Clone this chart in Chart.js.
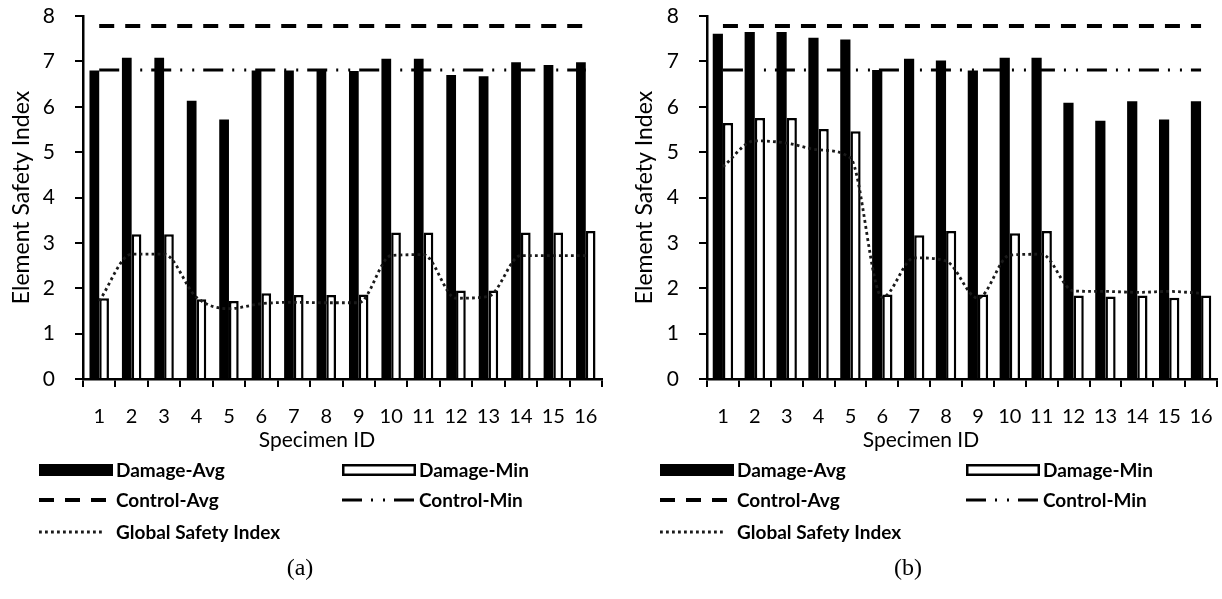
<!DOCTYPE html>
<html><head><meta charset="utf-8">
<script src="https://cdn.jsdelivr.net/npm/chart.js@4.4.1/dist/chart.umd.min.js"></script>
<style>
html,body{margin:0;padding:0;background:#fff;width:1222px;height:599px;overflow:hidden}
.wrap{position:absolute;top:0}
canvas{display:block}
</style></head><body>
<div class="wrap" style="left:0"><canvas id="ca" width="610" height="599"></canvas></div>
<div class="wrap" style="left:610px"><canvas id="cb" width="612" height="599"></canvas></div>
<script>
// ---- data ----
const specimenIds = ['1','2','3','4','5','6','7','8','9','10','11','12','13','14','15','16'];
const yTickValues = [0,1,2,3,4,5,6,7,8];
const seriesNames = ['Damage-Avg','Damage-Min','Control-Avg','Control-Min','Global Safety Index'];

// (a)
const damageAvgA = [6.80, 7.08, 7.08, 6.13, 5.72, 6.80, 6.80, 6.79, 6.79, 7.06, 7.06, 6.70, 6.67, 6.98, 6.92, 6.98];
const damageMinA = [1.78, 3.19, 3.19, 1.76, 1.72, 1.89, 1.85, 1.85, 1.86, 3.23, 3.23, 1.95, 1.95, 3.23, 3.23, 3.26];
const controlAvgA = [7.78, 7.78, 7.78, 7.78, 7.78, 7.78, 7.78, 7.78, 7.78, 7.78, 7.78, 7.78, 7.78, 7.78, 7.78, 7.78];
const controlMinA = [6.81, 6.81, 6.81, 6.81, 6.81, 6.81, 6.81, 6.81, 6.81, 6.81, 6.81, 6.81, 6.81, 6.81, 6.81, 6.81];
const globalA = [1.72, 2.75, 2.75, 1.80, 1.55, 1.66, 1.69, 1.68, 1.68, 2.72, 2.74, 1.78, 1.82, 2.72, 2.72, 2.72];

// (b)
const damageAvgB = [7.61, 7.65, 7.65, 7.52, 7.48, 6.81, 7.06, 7.02, 6.80, 7.08, 7.08, 6.09, 5.69, 6.12, 5.72, 6.12];
const damageMinB = [5.64, 5.75, 5.75, 5.51, 5.46, 1.86, 3.17, 3.26, 1.86, 3.21, 3.26, 1.84, 1.82, 1.84, 1.79, 1.84];
const controlAvgB = [7.78, 7.78, 7.78, 7.78, 7.78, 7.78, 7.78, 7.78, 7.78, 7.78, 7.78, 7.78, 7.78, 7.78, 7.78, 7.78];
const controlMinB = [6.81, 6.81, 6.81, 6.81, 6.81, 6.81, 6.81, 6.81, 6.81, 6.81, 6.81, 6.81, 6.81, 6.81, 6.81, 6.81];
const globalB = [4.68, 5.25, 5.20, 5.05, 4.87, 1.80, 2.67, 2.60, 1.78, 2.73, 2.75, 1.94, 1.93, 1.91, 1.93, 1.89];

const xTitle = 'Specimen ID';
const yTitle = 'Element Safety Index';

// ---- styling / drawing ----
const TICK_FONT = {family: 'Lato', size: 20};
const LEGEND_FONT = 'bold 19px Lato';

const bottomPlugin = {
  id: 'bottomText',
  afterDraw(chart, args, o) {
    const ctx = chart.ctx;
    ctx.save();
    ctx.fillStyle = '#000';
    ctx.textBaseline = 'middle';
    // x axis title
    ctx.font = '21px Lato';
    ctx.textAlign = 'center';
    ctx.fillText(o.xTitle, o.xTitleX, o.xTitleY);
    // legend (2 columns)
    const sw = 74, sh = 12;
    chart.data.datasets.forEach((ds, i) => {
      const col = i % 2, row = Math.floor(i / 2);
      const x = o.legendCols[col], y = o.legendRows[row];
      ctx.save();
      if (ds.type === 'bar') {
        ctx.fillStyle = ds.backgroundColor;
        ctx.fillRect(x, y - sh/2, sw, sh);
        if (ds.borderWidth) {
          ctx.lineWidth = 2.5;
          ctx.strokeStyle = ds.borderColor;
          ctx.strokeRect(x + 1.25, y - sh/2 + 1.25, sw - 2.5, sh - 2.5);
        }
      } else {
        ctx.strokeStyle = ds.borderColor;
        ctx.lineWidth = ds.borderWidth;
        ctx.lineCap = 'butt';
        ctx.setLineDash(ds.borderDash || []);
        ctx.beginPath();
        ctx.moveTo(x, y);
        ctx.lineTo(x + (ds.legendLen || sw), y);
        ctx.stroke();
      }
      ctx.restore();
      ctx.font = LEGEND_FONT;
      ctx.textAlign = 'left';
      ctx.fillStyle = '#000';
      ctx.fillText(ds.label, x + sw + 3, y + 1);
    });
    // caption
    ctx.font = '24px "Liberation Serif"';
    ctx.textAlign = 'center';
    ctx.fillText(o.caption, o.captionX, o.captionY);
    ctx.restore();
  }
};

function makeChart(id, avg, mn, cAvg, cMin, glob, cfg) {
  const datasets = [
    {type:'bar', label: seriesNames[0], data: avg, backgroundColor:'#000', borderWidth:0,
     categoryPercentage: cfg.catPct, barPercentage: 1, order: 3},
    {type:'bar', label: seriesNames[1], data: mn, backgroundColor:'#fff', borderColor:'#000', borderWidth:2.5,
     categoryPercentage: cfg.catPct, barPercentage: 1, order: 3},
    {type:'line', label: seriesNames[2], data: cAvg, borderColor:'#000', borderWidth:4,
     borderDash:[15,11], pointRadius:0, fill:false, order: 1},
    {type:'line', label: seriesNames[3], data: cMin, borderColor:'#000', borderWidth:3,
     borderDash:[20,9,2,10,2,9], pointRadius:0, fill:false, order: 1},
    {type:'line', label: seriesNames[4], data: glob, borderColor:'#1a1a1a', borderWidth:2.8,
     borderDash:[2.8,3.2], legendLen: 66, pointRadius:0, fill:false, cubicInterpolationMode:'monotone', order: 0}
  ];
  return new Chart(document.getElementById(id), {
    data: {labels: specimenIds, datasets},
    options: {
      responsive: false,
      animation: false,
      devicePixelRatio: 1,
      layout: {padding: {top: 16, right: cfg.padRight, left: 0, bottom: 0}},
      plugins: {
        legend: {display: false},
        tooltip: {enabled: false},
        bottomText: cfg.bottom
      },
      scales: {
        x: {
          type: 'category',
          offset: true,
          grid: {offset: true, drawOnChartArea: false, drawTicks: true, tickLength: 8, color: '#000', lineWidth: 2},
          border: {display: true, color: '#000', width: 2.5},
          ticks: {font: TICK_FONT, color: '#000', padding: 18, maxRotation: 0, autoSkip: false},
          afterFit: s => { s.height = 220; s.paddingLeft = 0; s.paddingRight = 0; }
        },
        y: {
          min: 0, max: 8,
          afterBuildTicks: s => { s.ticks = yTickValues.map(v => ({value: v})); },
          grid: {drawOnChartArea: false, drawTicks: true, tickLength: 8, color: '#000', lineWidth: 2},
          border: {display: true, color: '#000', width: 2.5},
          ticks: {font: {family: 'Lato', size: 21}, color: '#000', padding: 20},
          title: {display: true, text: yTitle, font: {family: 'Lato', size: 23}, color: '#000', padding: {top: cfg.titlePad, bottom: 0}},
          afterFit: s => { s.width = cfg.yWidth; s.paddingTop = 0; s.paddingBottom = 0; }
        }
      }
    },
    plugins: [bottomPlugin]
  });
}

makeChart('ca', damageAvgA, damageMinA, controlAvgA, controlMinA, globalA, {
  catPct: 0.6, padRight: 8, yWidth: 83, titlePad: 8,
  bottom: {xTitle, xTitleX: 317, xTitleY: 440, legendCols: [39, 342], legendRows: [470, 500, 532],
           caption: '(a)', captionX: 300, captionY: 569}
});
makeChart('cb', damageAvgB, damageMinB, controlAvgB, controlMinB, globalB, {
  catPct: 0.64, padRight: 5, yWidth: 97, titlePad: 21,
  bottom: {xTitle, xTitleX: 311, xTitleY: 440, legendCols: [50, 356], legendRows: [470, 500, 532],
           caption: '(b)', captionX: 298, captionY: 569}
});
</script>
</body></html>
